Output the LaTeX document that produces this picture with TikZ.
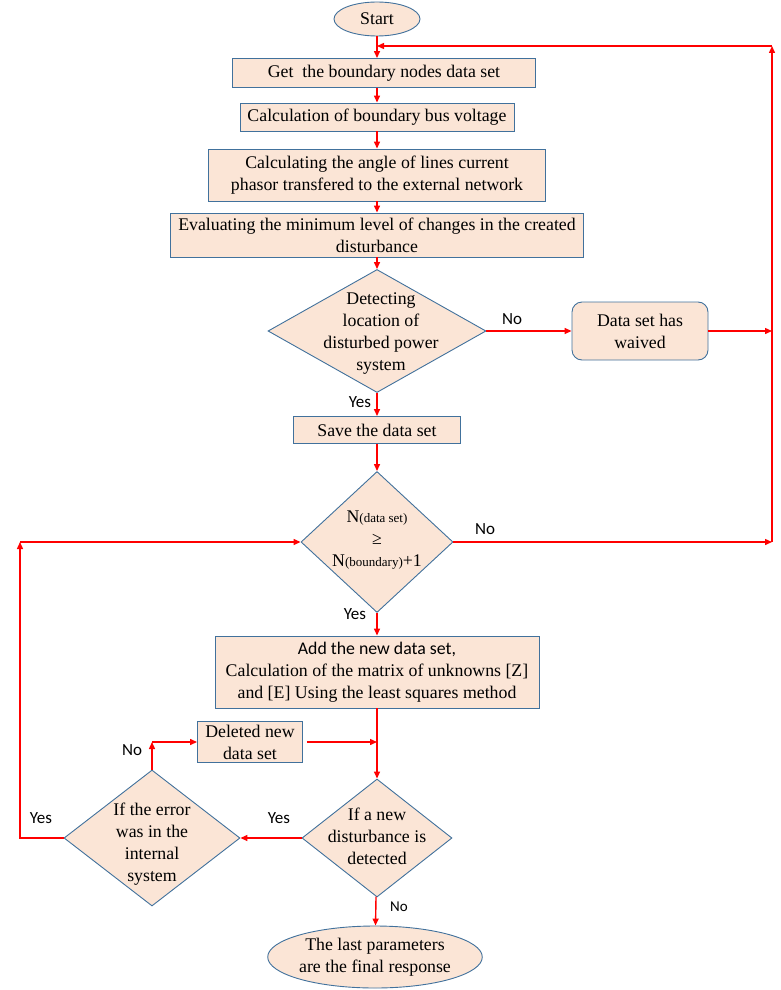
\documentclass[tikz,border=0pt]{standalone}
\usepackage{fontspec}
\setmainfont{Liberation Serif}
\newfontfamily\lblfont{Carlito}
\usepackage{tikz}
\usetikzlibrary{arrows.meta, shapes.geometric}
\definecolor{boxfill}{RGB}{251,229,214}
\definecolor{boxline}{RGB}{65,113,156}
\definecolor{flowred}{RGB}{255,0,0}

\begin{document}
\begin{tikzpicture}[x=1pt,y=-1pt,
  every node/.style={font=\fontsize{17.8}{22}\selectfont, inner sep=0pt},
  proc/.style={draw=boxline, fill=boxfill, line width=0.9pt, align=center},
  decision/.style={diamond, draw=boxline, fill=boxfill, line width=0.9pt},
  term/.style={ellipse, draw=boxline, fill=boxfill, line width=0.9pt, align=center},
  flow/.style={draw=flowred, line width=1.4pt, -{Triangle[length=7pt,width=6pt]}},
  tag/.style={font=\lblfont\fontsize{17}{20}\selectfont}]
  \useasboundingbox (0,0) rectangle (780,990);
  \node[term, minimum width=86, minimum height=34] (start) at (377,19) {Start};
  \node[proc, minimum width=303, minimum height=29] (getdata) at (384,73) {Get\ \ the boundary nodes data set};
  \node[proc, minimum width=274, minimum height=28] (busvolt) at (377,117) {Calculation of boundary bus voltage};
  \node[proc, minimum width=337, minimum height=52] (angle) at (377,175) {Calculating the angle of lines current\\phasor transfered to the external network};
  \node[proc, minimum width=413, minimum height=44] (evalmin) at (377,235) {Evaluating the minimum level of changes in the created\\disturbance};
  \node[decision, minimum width=218, minimum height=123] (detect) at (377,331) {};
  \node[align=center] (detecttxt) at (381,334) {Detecting\\location of\\disturbed power\\system};
  \node[proc, rounded corners=10pt, minimum width=136, minimum height=58] (waived) at (640,331) {Data set has\\waived};
  \node[proc, minimum width=167, minimum height=27] (save) at (377,430) {Save the data set};
  \node[decision, minimum width=152, minimum height=141] (count) at (377,542) {};
  \node[align=center] (counttxt) at (377,540) {N{\fontsize{13}{15}\selectfont(data set)}\\≥\\N{\fontsize{13}{15}\selectfont(boundary)}+1};
  \node[proc, minimum width=324, minimum height=72] (lsq) at (377,672) {{\lblfont Add the new data set,}\\Calculation of the matrix of unknowns [Z]\\and [E] Using the least squares method};
  \node[proc, minimum width=105, minimum height=41] (deleted) at (250,742) {Deleted new\\data set};
  \node[decision, minimum width=150, minimum height=118] (newdist) at (377,838) {};
  \node[align=center] (newdisttxt) at (377,836) {If a new\\disturbance is\\detected};
  \node[decision, minimum width=176, minimum height=136] (interr) at (152,838) {};
  \node[align=center] (interrtxt) at (152,844) {If the error\\was in the\\internal\\system};
  \node[term, minimum width=177, minimum height=62] (final) at (375,957) {The last parameters\\are the final response};

  \coordinate (rbot) at (772,542);
  \coordinate (rtop) at (772,46);
  \coordinate (lcorner) at (20,542);
  \coordinate (nocorner) at (152,742);

  \draw[flow] (start) -- (start |- getdata.north);
  \draw[flow] (getdata.south -| busvolt) -- (busvolt);
  \draw[flow] (busvolt) -- (angle);
  \draw[flow] (angle) -- (evalmin);
  \draw[flow] (evalmin) -- (detect);
  \draw[flow] (detect) -- (waived);
  \draw[flow] (detect) -- (save);
  \draw[flow] (save) -- (count);
  \draw[flow] (count) -- (lsq);
  \draw[flow] (lsq) -- (newdist);
  \draw[flow] (newdist) -- (interr);
  \draw[flow] (newdist) -- (final);
  \draw[flow] (count.east) -- (rbot);
  \draw[flow] (waived.east) -- (waived.east -| rbot);
  \draw[flow] (rbot) -- (rtop);
  \draw[flow] (rtop) -- (rtop -| start);
  \draw[flow] (interr.west) -| (lcorner);
  \draw[flow] (lcorner) -- (count.west);
  \draw[flow] (interr.north) -- (nocorner);
  \draw[flow] (nocorner) -- (deleted.west);
  \draw[flow] ([xshift=4pt]deleted.east) -- (deleted.east -| lsq);

  \node[tag] (nodetect) at (512,319) {No};
  \node[tag] (yesdetect) at (360,402) {Yes};
  \node[tag] (nocount) at (485,529) {No};
  \node[tag] (yescount) at (355,614) {Yes};
  \node[tag] (noerr) at (132,750) {No};
  \node[tag] (yeserr) at (41,818) {Yes};
  \node[tag] (yesnew) at (279,818) {Yes};
  \node[tag, font=\lblfont\fontsize{15}{18}\selectfont] (nonew) at (399,907) {No};
\end{tikzpicture}
\end{document}
